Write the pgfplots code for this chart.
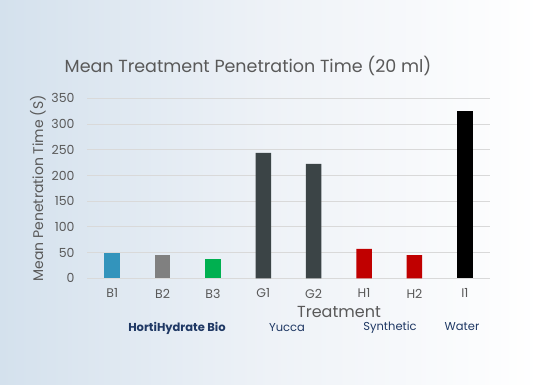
\documentclass[border=0pt]{standalone}
\usepackage{pgfplots}
\pgfplotsset{compat=1.18}
\usepackage{fontspec}
\setmainfont{Poppins}
\definecolor{bgl}{RGB}{212,225,237}
\definecolor{bgm}{RGB}{238,242,247}
\definecolor{tickc}{RGB}{89,89,89}
\definecolor{gridc}{RGB}{217,217,217}
\definecolor{cB1}{RGB}{51,148,188}
\definecolor{cB2}{RGB}{128,128,128}
\definecolor{cB3}{RGB}{0,176,80}
\definecolor{cG}{RGB}{59,68,70}
\definecolor{cH}{RGB}{192,0,0}
\definecolor{grp}{RGB}{31,56,100}
\begin{document}
\begin{tikzpicture}[x=1pt,y=1pt]
\shade[left color=bgl, right color=white, middle color=bgm] (0,0) rectangle (540,384);
\begin{axis}[
  at={(87pt,105.7pt)}, anchor=south west,
  scale only axis, width=403pt, height=180pt,
  xmin=-0.5, xmax=7.5, ymin=0, ymax=350,
  ybar, bar width=15.5pt,
  axis line style={draw=none},
  ymajorgrids, grid style={gridc, line width=0.9pt},
  major tick length=0pt,
  ytick={0,50,...,350},
  xtick={0,...,7},
  xticklabels={B1,B2,B3,G1,G2,H1,H2,I1},
  ticklabel style={font=\fontsize{12.5}{14}\selectfont, text=tickc},
  /pgf/number format/assume math mode=true,
  yticklabel style={xshift=-9pt},
  xticklabel style={yshift=-7pt},
  ylabel={Mean Penetration Time (S)},
  ylabel style={font=\fontsize{14}{16}\selectfont, text=tickc, at={(axis description cs:-0.1216,0.5)}, anchor=center},
  clip=false,
]
\addplot[fill=cB1, draw=none, bar shift=0pt] coordinates {(0,49.2)};
\addplot[fill=cB2, draw=none, bar shift=0pt] coordinates {(1,45.3)};
\addplot[fill=cB3, draw=none, bar shift=0pt] coordinates {(2,37.5)};
\addplot[fill=cG, draw=none, bar shift=0pt] coordinates {(3,243.7) (4,222.3)};
\addplot[fill=cH, draw=none, bar shift=0pt] coordinates {(5,57) (6,45.3)};
\addplot[fill=black, draw=none, bar shift=0pt] coordinates {(7,325.5)};
\end{axis}
\node[font=\fontsize{17.5}{20}\selectfont, text=tickc] at (248,318) {Mean Treatment Penetration Time (20 ml)};
\node[font=\fontsize{16}{18}\selectfont, text=tickc] at (339,72) {Treatment};
\node[font=\bfseries\fontsize{11.5}{13}\selectfont, text=grp] at (177,56) {HortiHydrate Bio};
\node[font=\fontsize{11.5}{13}\selectfont, text=grp] at (287,56) {Yucca};
\node[font=\fontsize{11.5}{13}\selectfont, text=grp] at (390,56) {Synthetic};
\node[font=\fontsize{11.5}{13}\selectfont, text=grp] at (462,57) {Water};
\end{tikzpicture}
\end{document}
